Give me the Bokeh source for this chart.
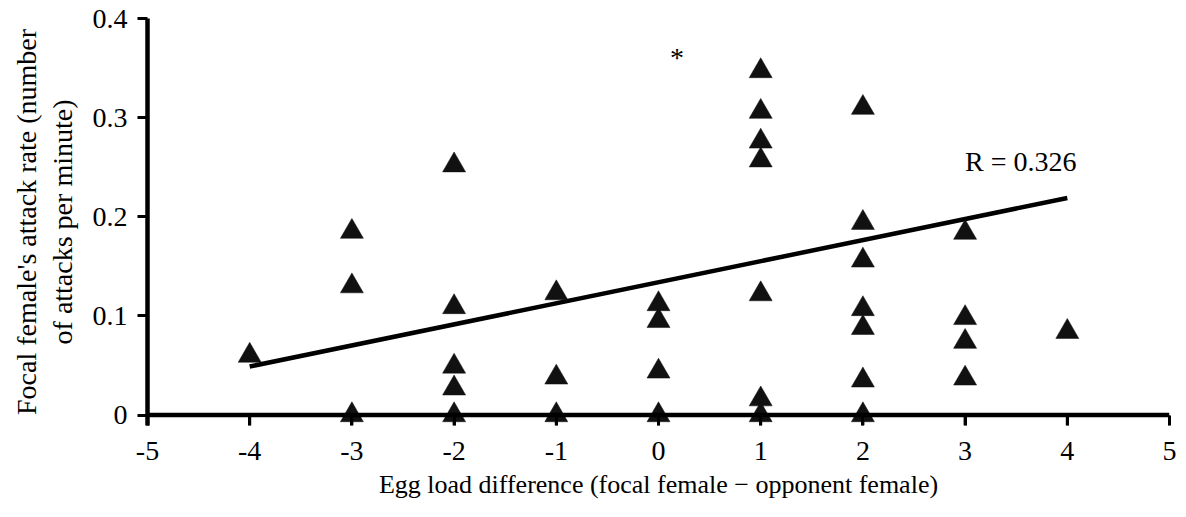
from bokeh.plotting import figure
from bokeh.models import Range1d, FixedTicker, Label, Span
from bokeh.embed import file_html
from bokeh.resources import INLINE

# Egg load difference (focal female - opponent female) for each trial
egg_diff = [-4,
            -3, -3, -3,
            -2, -2, -2, -2, -2,
            -1, -1, -1,
            0, 0, 0, 0,
            1, 1, 1, 1, 1, 1, 1,
            2, 2, 2, 2, 2, 2, 2,
            3, 3, 3, 3,
            4]

# Focal female's attack rate (attacks per minute)
attack_rate = [0.060,
               0.185, 0.130, 0.000,
               0.252, 0.109, 0.049, 0.027, 0.000,
               0.123, 0.038, 0.000,
               0.112, 0.095, 0.044, 0.000,
               0.347, 0.306, 0.276, 0.257, 0.122, 0.016, 0.000,
               0.310, 0.194, 0.156, 0.107, 0.088, 0.035, 0.000,
               0.184, 0.098, 0.074, 0.037,
               0.084]

# Fitted trend line end points
trend_x = [-4, 4]
trend_y = [0.049, 0.219]
r_label = "R = 0.326"

x_ticks = [-5, -4, -3, -2, -1, 0, 1, 2, 3, 4, 5]
x_tick_labels = ["-5", "-4", "-3", "-2", "-1", "0", "1", "2", "3", "4", "5"]
y_ticks = [0, 0.1, 0.2, 0.3, 0.4]
y_tick_labels = ["0", "0.1", "0.2", "0.3", "0.4"]

FONT = "Liberation Serif"
FS = "28px"
Y_BOTTOM = -0.0105   # frame extends a little below zero

# the frame runs a little below zero so that markers sitting on the
# baseline are not cut off; the baseline itself is drawn at y = 0
p = figure(width=1186, height=517,
           x_range=Range1d(-5, 5), y_range=Range1d(Y_BOTTOM, 0.4),
           output_backend="svg", toolbar_location=None,
           min_border_left=147, min_border_right=17,
           min_border_top=18, min_border_bottom=92)

p.outline_line_color = None
p.grid.visible = False
p.background_fill_color = "white"
p.border_fill_color = "white"

# baseline at zero with downward tick marks
p.add_layout(Span(location=0, dimension="width", line_color="black",
                  line_width=4.5))
p.segment(x0=x_ticks, y0=[0] * len(x_ticks), x1=x_ticks,
          y1=[Y_BOTTOM] * len(x_ticks), line_color="black", line_width=3)

# regression line
p.line(trend_x, trend_y, line_color="black", line_width=4.5)

# observations
p.scatter(egg_diff, attack_rate, marker="triangle", size=23,
          fill_color="#111111", line_color="#111111", line_width=0.5)

# axes
for ax in (p.xaxis[0], p.yaxis[0]):
    ax.axis_line_width = 4.5
    ax.axis_line_color = "black"
    ax.major_tick_line_width = 3
    ax.major_tick_line_color = "black"
    ax.minor_tick_out = 0
    ax.minor_tick_in = 0
    ax.major_label_text_font = FONT
    ax.major_label_text_font_size = FS
    ax.major_label_text_color = "black"
    ax.axis_label_text_font = FONT
    ax.axis_label_text_font_size = FS
    ax.axis_label_text_font_style = "normal"
    ax.axis_label_text_color = "black"

# x axis sits at the frame bottom; its ticks reach up to the baseline
p.xaxis.axis_line_color = None
p.xaxis.major_tick_in = 10
p.xaxis.major_tick_out = 0
p.xaxis.ticker = FixedTicker(ticks=x_ticks)
p.xaxis.major_label_overrides = dict(zip(x_ticks, x_tick_labels))
p.xaxis.major_label_standoff = 16
p.xaxis.axis_label = "Egg load difference (focal female \u2212 opponent female)"
p.xaxis.axis_label_text_font_size = "26px"
p.xaxis.axis_label_standoff = 7

p.yaxis.major_tick_out = 10
p.yaxis.major_tick_in = 0
p.yaxis.ticker = FixedTicker(ticks=y_ticks)
p.yaxis.major_label_overrides = dict(zip(y_ticks, y_tick_labels))
p.yaxis.major_label_standoff = 10
p.yaxis.axis_label = "Focal female's attack rate (number\nof attacks per minute)"
p.yaxis.axis_label_standoff = 12
p.yaxis.axis_label_text_line_height = 1.15

# annotations
p.add_layout(Label(x=3.0, y=0.256, text=r_label, text_font=FONT,
                   text_font_size=FS, text_color="black",
                   text_align="left", text_baseline="alphabetic"))
p.add_layout(Label(x=0.18, y=0.361, text="*", text_font=FONT,
                   text_font_size=FS, text_color="black",
                   text_align="center", text_baseline="alphabetic"))

open("out.html", "w").write(file_html(p, INLINE))
